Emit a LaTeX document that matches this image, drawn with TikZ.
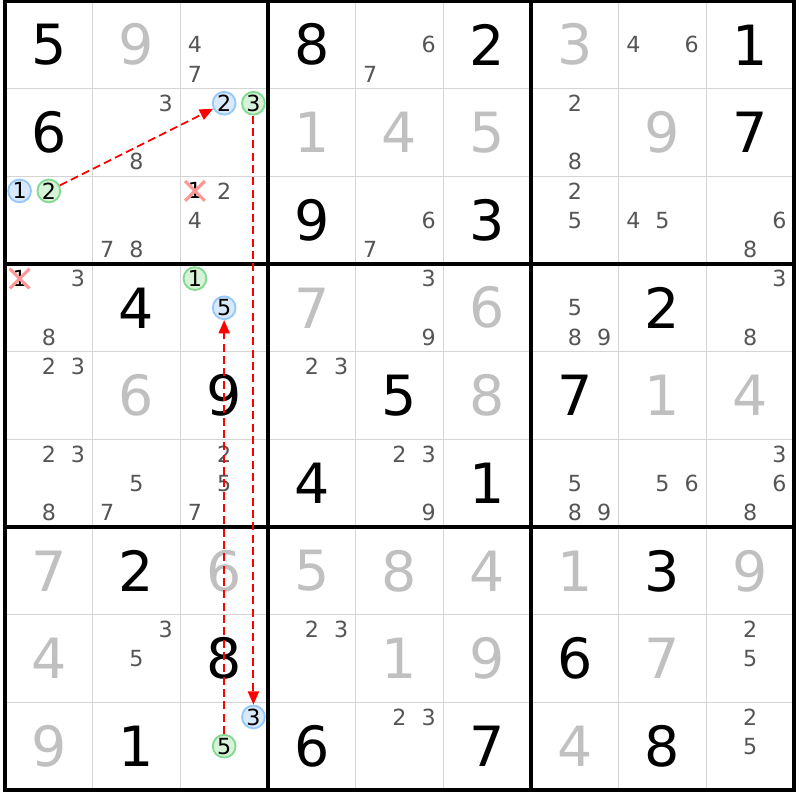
\documentclass[tikz,border=0pt]{standalone}
\usepackage{fontspec}
\setmainfont{DejaVu Sans}
\usetikzlibrary{arrows.meta,shapes.misc}
\definecolor{solvedgray}{RGB}{192,192,192}
\definecolor{candgray}{RGB}{85,85,85}
\definecolor{gridgray}{RGB}{212,212,212}
\definecolor{bluefill}{RGB}{216,233,252}
\definecolor{bluering}{RGB}{150,200,250}
\definecolor{greenfill}{RGB}{214,243,216}
\definecolor{greenring}{RGB}{130,218,145}
\definecolor{xpink}{RGB}{255,150,150}
\def\given(#1,#2)#3{\node[given] (v#1#2) at (#2-0.5, 9.5-#1) {#3};}
\def\solved(#1,#2)#3{\node[solved] (v#1#2) at (#2-0.5, 9.5-#1) {#3};}
\def\cand[#1](#2,#3)#4{\node[#1] (c#2#3#4) at ({#3-1+(2*mod(#4-1,3)+1)/6}, {10-#2-(2*int((#4-1)/3)+1)/6}) {#4};}
\def\cands(#1,#2)#3{\foreach \dg in {#3}{\cand[cand](#1,#2)\dg}}

\begin{document}
\begin{tikzpicture}[
	given/.style={font=\fontsize{18}{20}\selectfont, text=black, inner sep=0pt},
	solved/.style={given, text=solvedgray},
	cand/.style={font=\fontsize{7.2}{8}\selectfont, text=candgray, inner sep=0pt},
	bluecand/.style={cand, text=black, circle, draw=bluering, fill=bluefill, line width=0.6pt, minimum size=0.26cm},
	greencand/.style={cand, text=black, circle, draw=greenring, fill=greenfill, line width=0.6pt, minimum size=0.26cm},
	struck/.style={cand, text=black, cross out, draw=xpink, line width=1pt, minimum size=0.19cm},
	linkarrow/.style={red, line width=0.6pt, dash pattern=on 2.6pt off 1.4pt, -{Triangle[length=4.3pt,width=3.6pt]}}]
			%%%%% GRID %%%%%
			\useasboundingbox (-0.057, -0.114) rectangle (9.068, 9.011);
			\fill[white] (-0.057, -0.114) rectangle (9.068, 9.011);
			\draw[gridgray, line width=0.5pt] (0, 0) grid (9, 9);
			\draw[line width=1pt] (0, 0) grid[step=3] (9, 9);
			\draw[line width=1.1pt] (0, 0) rectangle (9, 9);
			
			%%%%% ROW 1 %%%%%
			\given(1,1){5} \solved(1,2){9} \cands(1,3){4,7}
			\given(1,4){8} \cands(1,5){6,7} \given(1,6){2}
			\solved(1,7){3} \cands(1,8){4,6} \given(1,9){1}
			
			%%%%% ROW 2 %%%%%
			\given(2,1){6} \cands(2,2){3,8}
			\cand[bluecand](2,3){2} \cand[greencand](2,3){3}
			\solved(2,4){1} \solved(2,5){4} \solved(2,6){5}
			\cands(2,7){2,8} \solved(2,8){9} \given(2,9){7}
			
			%%%%% ROW 3 %%%%%
			\cand[bluecand](3,1){1} \cand[greencand](3,1){2}
			\cands(3,2){7,8}
			\cand[struck](3,3){1} \cands(3,3){2,4}
			\given(3,4){9} \cands(3,5){6,7} \given(3,6){3}
			\cands(3,7){2,5} \cands(3,8){4,5} \cands(3,9){6,8}
			
			%%%%% ROW 4 %%%%%
			\cand[struck](4,1){1} \cands(4,1){3,8}
			\given(4,2){4}
			\cand[greencand](4,3){1} \cand[bluecand](4,3){5}
			\solved(4,4){7} \cands(4,5){3,9} \solved(4,6){6}
			\cands(4,7){5,8,9} \given(4,8){2} \cands(4,9){3,8}
			
			%%%%% ROW 5 %%%%%
			\cands(5,1){2,3} \solved(5,2){6} \given(5,3){9}
			\cands(5,4){2,3} \given(5,5){5} \solved(5,6){8}
			\given(5,7){7} \solved(5,8){1} \solved(5,9){4}
			
			%%%%% ROW 6 %%%%%
			\cands(6,1){2,3,8} \cands(6,2){5,7} \cands(6,3){2,5,7}
			\given(6,4){4} \cands(6,5){2,3,9} \given(6,6){1}
			\cands(6,7){5,8,9} \cands(6,8){5,6} \cands(6,9){3,6,8}
			
			%%%%% ROW 7 %%%%%
			\solved(7,1){7} \given(7,2){2} \solved(7,3){6}
			\solved(7,4){5} \solved(7,5){8} \solved(7,6){4}
			\solved(7,7){1} \given(7,8){3} \solved(7,9){9}
			
			%%%%% ROW 8 %%%%%
			\solved(8,1){4} \cands(8,2){3,5} \given(8,3){8}
			\cands(8,4){2,3} \solved(8,5){1} \solved(8,6){9}
			\given(8,7){6} \solved(8,8){7} \cands(8,9){2,5}
			
			%%%%% ROW 9 %%%%%
			\solved(9,1){9} \given(9,2){1}
			\cand[bluecand](9,3){3} \cand[greencand](9,3){5}
			\given(9,4){6} \cands(9,5){2,3} \given(9,6){7}
			\solved(9,7){4} \given(9,8){8} \cands(9,9){2,5}
			
			%%%%% LINKS %%%%%
			\draw[linkarrow] (c312) -- (c232);
			\draw[linkarrow] (c233) -- (c933);
			\draw[linkarrow] (c935) -- (c435);
\end{tikzpicture}
\end{document}
